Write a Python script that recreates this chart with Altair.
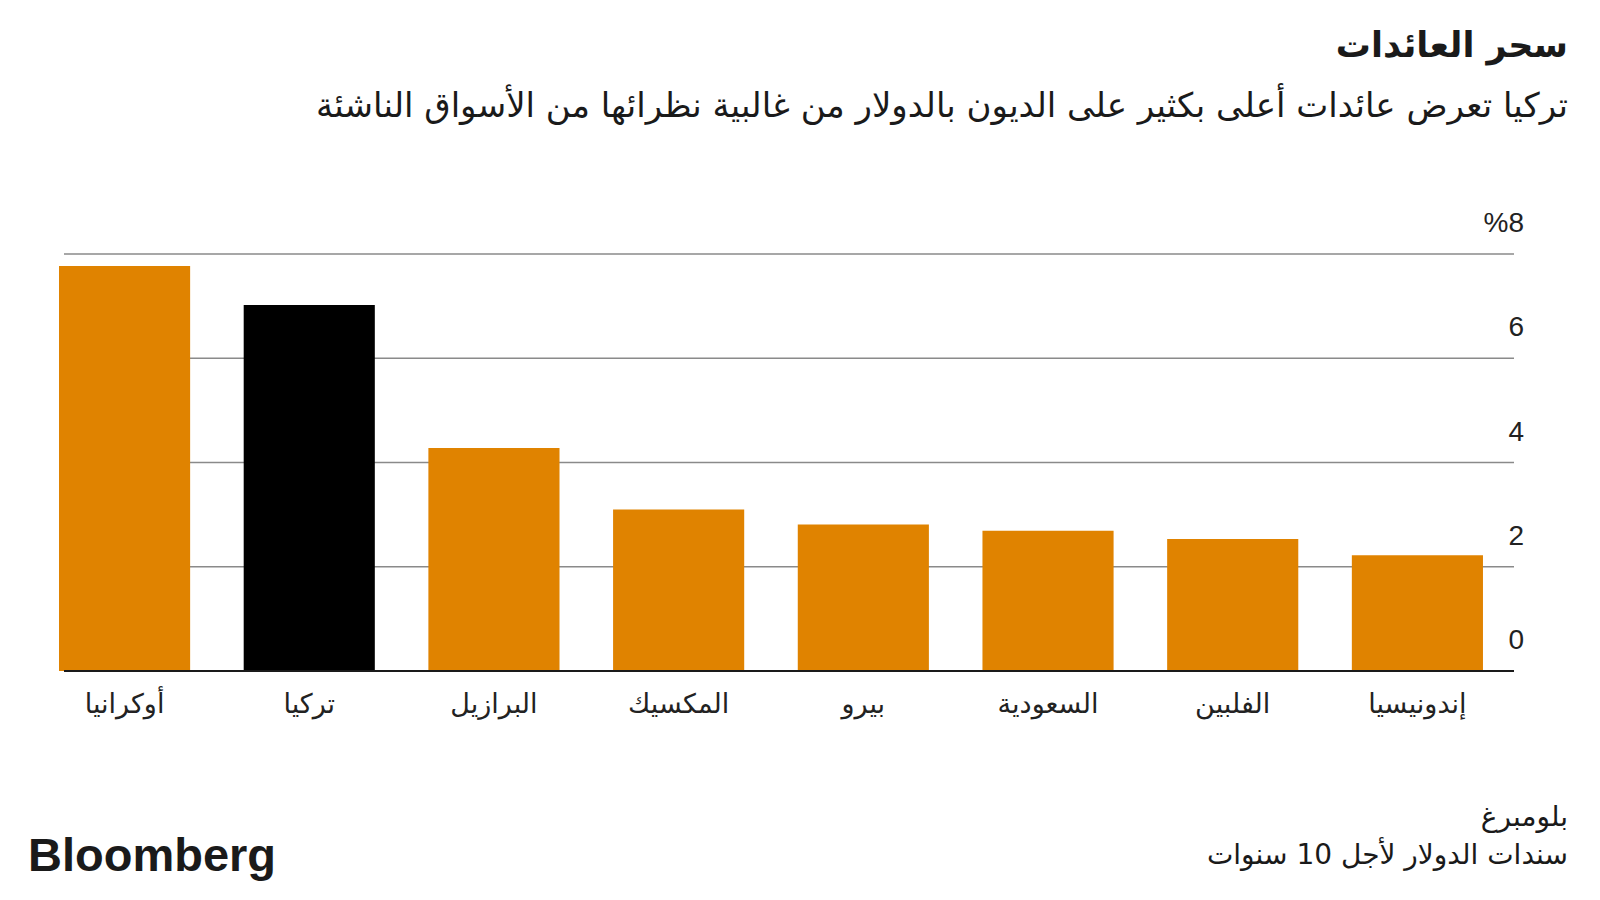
import altair as alt
import pandas as pd

countries = ["أوكرانيا", "تركيا", "البرازيل", "المكسيك", "بيرو", "السعودية", "الفلبين", "إندونيسيا"]
yields = [7.77, 7.02, 4.28, 3.10, 2.81, 2.69, 2.53, 2.22]
highlight = ["no", "yes", "no", "no", "no", "no", "no", "no"]
grid_values = [2, 4, 6, 8]
zero_value = [0]
tick_values = [0, 2, 4, 6, 8]
tick_labels = ["0", "2", "4", "6", "%8"]

title_text = "سحر العائدات"
subtitle_text = "تركيا تعرض عائدات أعلى بكثير على الديون بالدولار من غالبية نظرائها من الأسواق الناشئة"
source_line1 = "بلومبرغ"
source_line2 = "سندات الدولار لأجل 10 سنوات"
logo_text = "Bloomberg"

W = 1455
H = 417
ARABIC_FONT = "DejaVu Sans"

df = pd.DataFrame({"country": countries, "yield": yields, "hl": highlight})
ticks_df = pd.DataFrame({"v": tick_values, "label": tick_labels})
y_scale = alt.Scale(domain=[0, 8], nice=False, zero=True)

grid = alt.Chart(pd.DataFrame({"v": grid_values})).mark_rule(
    color="#8a8a8a", strokeWidth=1.5
).encode(
    y=alt.Y("v:Q", scale=y_scale, axis=None),
    x=alt.value(5),
    x2=alt.value(W),
)

bars = alt.Chart(df).mark_bar().encode(
    x=alt.X(
        "country:N",
        sort=countries,
        scale=alt.Scale(paddingInner=0.29, paddingOuter=0.084, align=0),
        axis=alt.Axis(
            title=None, labelAngle=0, ticks=False, domain=False, grid=False,
            labelFont=ARABIC_FONT, labelFontSize=27, labelColor="#222222",
            labelPadding=20,
        ),
    ),
    y=alt.Y("yield:Q", scale=y_scale, axis=None),
    color=alt.Color(
        "hl:N",
        scale=alt.Scale(domain=["no", "yes"], range=["#E08300", "#000000"]),
        legend=None,
    ),
)

zero_line = alt.Chart(pd.DataFrame({"v": zero_value})).mark_rule(
    color="#1a1a1a", strokeWidth=2.2
).encode(
    y=alt.Y("v:Q", scale=y_scale, axis=None),
    x=alt.value(5),
    x2=alt.value(W),
)

y_labels = alt.Chart(ticks_df).mark_text(
    align="right", baseline="middle", dy=-30, fontSize=28,
    font="Liberation Sans", color="#222222",
).encode(
    y=alt.Y("v:Q", scale=y_scale, axis=None),
    x=alt.value(1465),
    text="label:N",
)


def text_layer(txt, x, y, size, font, weight="normal", align="right"):
    return alt.Chart(pd.DataFrame({"t": [txt]})).mark_text(
        align=align, baseline="middle", fontSize=size, font=font,
        fontWeight=weight, color="#1a1a1a",
    ).encode(text="t:N", x=alt.value(x), y=alt.value(y))


title = text_layer(title_text, 1509, -208, 35, ARABIC_FONT, "bold")
subtitle = text_layer(subtitle_text, 1509, -147, 34, ARABIC_FONT)
src1 = text_layer(source_line1, 1509, 564, 28, ARABIC_FONT)
src2 = text_layer(source_line2, 1509, 602, 28, ARABIC_FONT)
logo = text_layer(logo_text, -31, 603, 47, "Liberation Sans", "bold", "left")

chart = alt.layer(grid, bars, zero_line, y_labels, title, subtitle, src1, src2, logo).properties(
    width=W,
    height=H,
    padding={"left": 59, "top": 254, "right": 86, "bottom": 229},
    autosize="none",
    background="white",
).configure_view(stroke=None)

chart.save("out.html", embed_options={"renderer": "svg", "actions": False})
